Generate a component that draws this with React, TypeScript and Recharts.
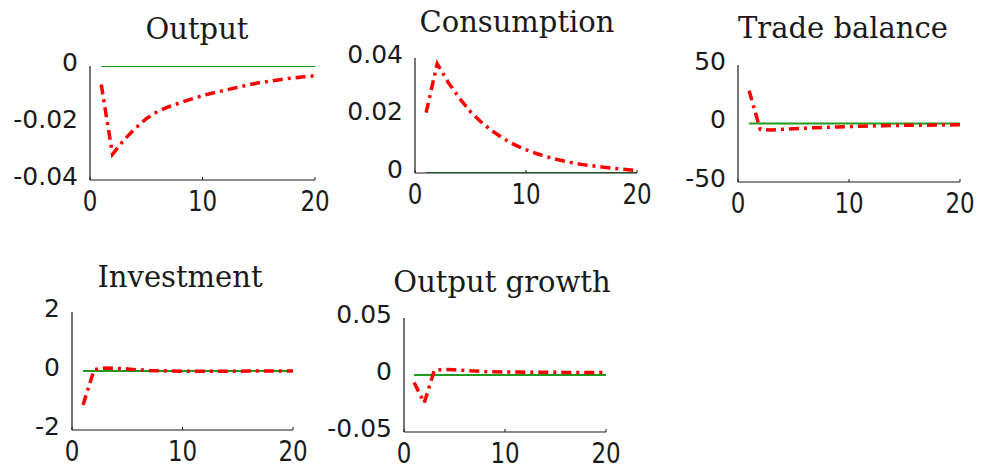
import { Line, LineChart, XAxis, YAxis } from "recharts";

const PERIODS = [1, 2, 3, 4, 5, 6, 7, 8, 9, 10, 11, 12, 13, 14, 15, 16, 17, 18, 19, 20];
const ZERO_LINE = [0, 0, 0, 0, 0, 0, 0, 0, 0, 0, 0, 0, 0, 0, 0, 0, 0, 0, 0, 0];

const OUTPUT = [
  -0.0065, -0.031, -0.026, -0.022, -0.0185, -0.016, -0.0143, -0.0129, -0.0116, -0.0104,
  -0.0094, -0.0085, -0.0076, -0.0067, -0.0059, -0.0053, -0.0047, -0.0042, -0.0038, -0.0034,
];
const CONSUMPTION = [
  0.021, 0.038, 0.0315, 0.026, 0.0213, 0.0176, 0.0145, 0.0119, 0.0098, 0.0081,
  0.0067, 0.0055, 0.0045, 0.0037, 0.003, 0.0025, 0.002, 0.0016, 0.0012, 0.0008,
];
const TRADE_BALANCE = [
  28, -5, -5.5, -5, -4.5, -4, -3.6, -3.2, -2.9, -2.6,
  -2.3, -2.1, -1.9, -1.7, -1.6, -1.5, -1.4, -1.3, -1.2, -1.1,
];
const INVESTMENT = [
  -1.15, 0.05, 0.1, 0.09, 0.07, 0.04, 0.02, 0.01, 0, -0.01,
  -0.01, -0.01, -0.01, -0.01, -0.01, 0, 0, 0, 0, 0,
];
const OUTPUT_GROWTH = [
  -0.0065, -0.0245, 0.004, 0.005, 0.0045, 0.004, 0.0035, 0.003, 0.0028, 0.0027,
  0.0026, 0.0025, 0.0025, 0.0024, 0.0024, 0.0023, 0.0023, 0.0022, 0.0022, 0.0022,
];

const X_TICKS = [0, 10, 20];
const OUTPUT_TICKS = [-0.04, -0.02, 0];
const CONSUMPTION_TICKS = [0, 0.02, 0.04];
const TRADE_TICKS = [-50, 0, 50];
const INVESTMENT_TICKS = [-2, 0, 2];
const GROWTH_TICKS = [-0.05, 0, 0.05];

const AXIS_W = 100;
const TOP = 20;
const RIGHT = 24;
const XAXIS_H = 44;
const INK = "#1a1a1a";

// page positions of each plot box (left, right, top, bottom) and its title
const panels = [
  { title: "Output", values: OUTPUT, ticks: OUTPUT_TICKS, x0: 90, x1: 315, y0: 66, y1: 180, tx: 197, ty: 39 },
  { title: "Consumption", values: CONSUMPTION, ticks: CONSUMPTION_TICKS, x0: 415, x1: 637, y0: 58, y1: 173, tx: 517, ty: 32 },
  { title: "Trade balance", values: TRADE_BALANCE, ticks: TRADE_TICKS, x0: 738, x1: 960, y0: 65, y1: 182, tx: 843, ty: 38 },
  { title: "Investment", values: INVESTMENT, ticks: INVESTMENT_TICKS, x0: 72, x1: 293, y0: 312, y1: 430, tx: 180, ty: 287 },
  { title: "Output growth", values: OUTPUT_GROWTH, ticks: GROWTH_TICKS, x0: 404, x1: 606, y0: 318, y1: 432, tx: 502, ty: 292 },
];

function XTick({ x, y, payload }: any) {
  return (
    <g>
      <line x1={x} y1={y} x2={x} y2={y - 3} stroke={INK} strokeWidth={1} />
      <text
        transform={`translate(${x}, ${y + 21}) scale(1, 1.25)`}
        textAnchor="middle"
        dominantBaseline="central"
        fontFamily="DejaVu Sans"
        fontSize={23}
        fill={INK}
      >
        {payload.value}
      </text>
    </g>
  );
}

function YTick({ x, y, payload }: any) {
  return (
    <text
      x={x - 12}
      y={y - 4}
      textAnchor="end"
      dominantBaseline="central"
      fontFamily="DejaVu Sans"
      fontSize={25}
      fill={INK}
    >
      {String(payload.value)}
    </text>
  );
}

function Panel({ p }: { p: (typeof panels)[number] }) {
  const width = p.x1 - p.x0 + AXIS_W + RIGHT;
  const height = p.y1 - p.y0 + TOP + XAXIS_H;
  const data = PERIODS.map((t, i) => ({ t, value: p.values[i], zero: ZERO_LINE[i] }));
  return (
    <div style={{ position: "absolute", left: p.x0 - AXIS_W, top: p.y0 - TOP }}>
      <LineChart
        width={width}
        height={height}
        data={data}
        margin={{ top: TOP, right: RIGHT, bottom: 0, left: 0 }}
        style={{ overflow: "visible" }}
      >
        <XAxis
          dataKey="t"
          type="number"
          domain={[0, 20]}
          ticks={X_TICKS}
          interval={0}
          height={XAXIS_H}
          tickSize={0}
          tickMargin={0}
          tickLine={false}
          axisLine={{ stroke: INK, strokeWidth: 1.2 }}
          tick={(props: any) => <XTick {...props} />}
        />
        <YAxis
          type="number"
          domain={[p.ticks[0], p.ticks[2]]}
          ticks={p.ticks}
          interval={0}
          width={AXIS_W}
          allowDataOverflow
          tickSize={0}
          tickMargin={0}
          tickLine={false}
          axisLine={{ stroke: INK, strokeWidth: 1.2 }}
          tick={(props: any) => <YTick {...props} />}
        />
        <Line
          dataKey="zero"
          stroke="#1e9a1e"
          strokeWidth={2}
          dot={false}
          isAnimationActive={false}
        />
        <Line
          dataKey="value"
          stroke="#ff0000"
          strokeWidth={3.5}
          strokeDasharray="10 5 3 5"
          dot={false}
          isAnimationActive={false}
        />
      </LineChart>
    </div>
  );
}

export default function App() {
  return (
    <div
      style={{
        position: "absolute",
        left: 0,
        top: 0,
        width: 983,
        height: 472,
        background: "#fff",
        overflow: "hidden",
      }}
    >
      {panels.map((p) => (
        <Panel key={p.title} p={p} />
      ))}
      <svg
        width={983}
        height={472}
        style={{ position: "absolute", left: 0, top: 0, pointerEvents: "none" }}
      >
        {panels.map((p) => (
          <text
            key={p.title}
            x={p.tx}
            y={p.ty}
            textAnchor="middle"
            fontFamily="DejaVu Serif"
            fontSize={29}
            fill={INK}
          >
            {p.title}
          </text>
        ))}
      </svg>
    </div>
  );
}
